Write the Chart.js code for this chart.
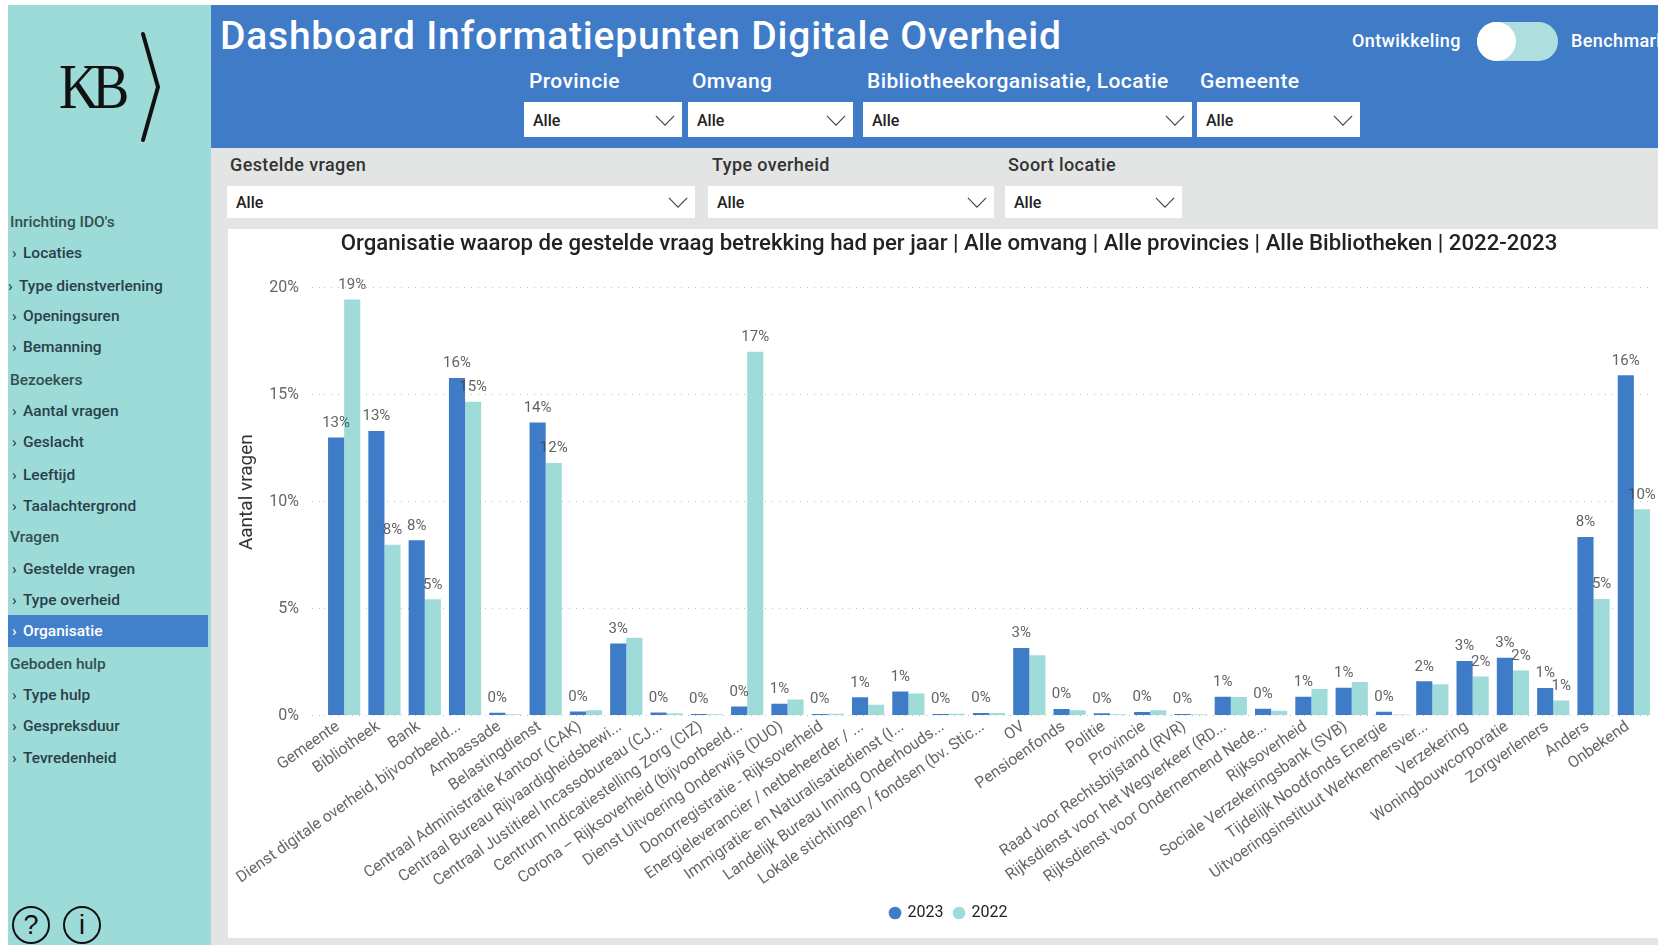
<!DOCTYPE html>
<html>
<head>
<meta charset="utf-8">
<title>Dashboard Informatiepunten Digitale Overheid</title>
<script src="https://cdn.jsdelivr.net/npm/chart.js@4"></script>
<style>
html, body { margin: 0; padding: 0; background: #fff; overflow: hidden; }
body { width: 1658px; height: 945px; position: relative; font-family: Roboto, sans-serif; }
.abs, .box, .lab, .nav, .head { position: absolute; white-space: nowrap; }
#side { left: 8px; top: 5px; width: 203px; height: 940px; background: #9ddbd9; }
#top { left: 211px; top: 5px; width: 1447px; height: 143px; background: #407bc8; }
#band { left: 211px; top: 148px; width: 1447px; height: 797px; background: #e3e5e4; }
#card { left: 228px; top: 229px; width: 1430px; height: 709px; background: #fff; }
#title { left: 220px; top: 13px; font-size: 39px; line-height: 46px; color: #fff; letter-spacing: .78px; font-weight: 500; }
.lab { font-size: 21px; line-height: 24px; color: #fff; letter-spacing: .4px; font-weight: 500; }
.lab.dark { font-size: 18px; color: #333; }
.box { background: #fff; font-size: 16px; color: #222; font-weight: 500; }
.box span { position: absolute; left: 9px; top: 50%; transform: translateY(-50%); }
.box svg { position: absolute; right: 7px; top: 50%; margin-top: -5px; }
.nav, .head { left: 23px; font-size: 15.5px; line-height: 20px; color: #2a3f4a; font-weight: 500; }
.head { left: 10px; color: #33504f; }
.nav::before { content: "›"; position: absolute; left: -11px; }
#active { left: 8px; top: 615px; width: 200px; height: 32px; background: #4280cc; }
.round { width: 34px; height: 34px; border: 2px solid #111; border-radius: 50%; text-align: center; font: 27px/34px "Liberation Sans", sans-serif; color: #111; }
</style>
</head>
<body>
<div class="abs" id="side"></div>
<div class="abs" id="top"></div>
<div class="abs" id="band"></div>
<div class="abs" id="card"><canvas id="myChart" width="1430" height="709" style="display:block;width:1430px;height:709px"></canvas></div>

<svg width="0" height="0" style="position:absolute"><symbol id="chev" viewBox="0 0 22 12"><polyline points="1,1 11,11 21,1" fill="none" stroke="#444" stroke-width="1.3"/></symbol></svg>

<div class="abs" id="title">Dashboard Informatiepunten Digitale Overheid</div>
<div class="lab" style="left:1352px;top:29px;font-size:18px">Ontwikkeling</div>
<div class="abs" style="left:1477px;top:22px;width:81px;height:39px;border-radius:20px;background:#aedede"></div>
<div class="abs" style="left:1477px;top:22px;width:39px;height:39px;border-radius:50%;background:#fff"></div>
<div class="lab" style="left:1571px;top:29px;font-size:18px">Benchmark</div>

<div class="lab" style="left:529px;top:69px">Provincie</div>
<div class="lab" style="left:692px;top:69px">Omvang</div>
<div class="lab" style="left:867px;top:69px">Bibliotheekorganisatie, Locatie</div>
<div class="lab" style="left:1200px;top:69px">Gemeente</div>
<div class="box" style="left:524px;top:102px;width:158px;height:35px"><span>Alle</span><svg width="20" height="11"><use href="#chev"/></svg></div>
<div class="box" style="left:688px;top:102px;width:165px;height:35px"><span>Alle</span><svg width="20" height="11"><use href="#chev"/></svg></div>
<div class="box" style="left:863px;top:102px;width:329px;height:35px"><span>Alle</span><svg width="20" height="11"><use href="#chev"/></svg></div>
<div class="box" style="left:1197px;top:102px;width:163px;height:35px"><span>Alle</span><svg width="20" height="11"><use href="#chev"/></svg></div>

<div class="lab dark" style="left:230px;top:153px">Gestelde vragen</div>
<div class="lab dark" style="left:712px;top:153px">Type overheid</div>
<div class="lab dark" style="left:1008px;top:153px">Soort locatie</div>
<div class="box" style="left:227px;top:186px;width:468px;height:32px"><span>Alle</span><svg width="20" height="11"><use href="#chev"/></svg></div>
<div class="box" style="left:708px;top:186px;width:286px;height:32px"><span>Alle</span><svg width="20" height="11"><use href="#chev"/></svg></div>
<div class="box" style="left:1005px;top:186px;width:177px;height:32px"><span>Alle</span><svg width="20" height="11"><use href="#chev"/></svg></div>

<div class="abs" style="left:59px;top:52px;font:64px/70px 'Liberation Serif',serif;color:#111;letter-spacing:-8px;transform:scaleX(.87);transform-origin:left">KB</div>
<svg class="abs" style="left:135px;top:28px" width="32" height="118"><polyline points="8,6 23,59 8,112" fill="none" stroke="#111" stroke-width="4" stroke-linecap="round"/></svg>

<div class="abs" id="active"></div>
<div class="head" style="top:212px">Inrichting IDO's</div>
<div class="nav" style="top:243px">Locaties</div>
<div class="nav" style="top:276px;left:19px">Type dienstverlening</div>
<div class="nav" style="top:306px">Openingsuren</div>
<div class="nav" style="top:337px">Bemanning</div>
<div class="head" style="top:370px">Bezoekers</div>
<div class="nav" style="top:401px">Aantal vragen</div>
<div class="nav" style="top:432px">Geslacht</div>
<div class="nav" style="top:465px">Leeftijd</div>
<div class="nav" style="top:496px">Taalachtergrond</div>
<div class="head" style="top:527px">Vragen</div>
<div class="nav" style="top:559px">Gestelde vragen</div>
<div class="nav" style="top:590px">Type overheid</div>
<div class="nav" style="top:621px;color:#fff">Organisatie</div>
<div class="head" style="top:654px">Geboden hulp</div>
<div class="nav" style="top:685px">Type hulp</div>
<div class="nav" style="top:716px">Gespreksduur</div>
<div class="nav" style="top:748px">Tevredenheid</div>
<div class="abs round" style="left:12px;top:906px">?</div>
<div class="abs round" style="left:63px;top:906px">i</div>

<script>
const categories = [
	"Gemeente",
	"Bibliotheek",
	"Bank",
	"Dienst digitale overheid, bijvoorbeeld...",
	"Ambassade",
	"Belastingdienst",
	"Centraal Administratie Kantoor (CAK)",
	"Centraal Bureau Rijvaardigheidsbewi...",
	"Centraal Justitieel Incassobureau (CJ...",
	"Centrum Indicatiestelling Zorg (CIZ)",
	"Corona – Rijksoverheid (bijvoorbeeld...",
	"Dienst Uitvoering Onderwijs (DUO)",
	"Donorregistratie - Rijksoverheid",
	"Energieleverancier / netbeheerder / ...",
	"Immigratie- en Naturalisatiedienst (I...",
	"Landelijk Bureau Inning Onderhouds...",
	"Lokale stichtingen / fondsen (bv. Stic...",
	"OV",
	"Pensioenfonds",
	"Politie",
	"Provincie",
	"Raad voor Rechtsbijstand (RVR)",
	"Rijksdienst voor het Wegverkeer (RD...",
	"Rijksdienst voor Ondernemend Nede...",
	"Rijksoverheid",
	"Sociale Verzekeringsbank (SVB)",
	"Tijdelijk Noodfonds Energie",
	"Uitvoeringsinstituut Werknemersver...",
	"Verzekering",
	"Woningbouwcorporatie",
	"Zorgverleners",
	"Anders",
	"Onbekend",
];

const values2023 = [12.99, 13.3, 8.19, 15.78, 0.13, 13.7, 0.19, 3.37, 0.14, 0.07, 0.42, 0.55, 0.07, 0.85, 1.12, 0.07, 0.12, 3.15, 0.3, 0.1, 0.16, 0.07, 0.88, 0.32, 0.88, 1.3, 0.18, 1.6, 2.55, 2.7, 1.29, 8.34, 15.9];
const values2022 = [19.45, 7.98, 5.43, 14.67, 0.06, 11.8, 0.24, 3.64, 0.11, 0.06, 17.0, 0.75, 0.08, 0.5, 1.03, 0.08, 0.12, 2.82, 0.24, 0.06, 0.25, 0.06, 0.87, 0.22, 1.24, 1.57, 0.05, 1.46, 1.82, 2.1, 0.7, 5.44, 9.64];

// 2022 only gets a label on these categories, the rest is hidden in the original
const labelled2022 = ["Gemeente", "Bibliotheek", "Bank", "Dienst digitale overheid, bijvoorbeeld...", "Belastingdienst", "Corona – Rijksoverheid (bijvoorbeeld...", "Verzekering", "Woningbouwcorporatie", "Zorgverleners", "Anders", "Onbekend"];

const chartTitle = "Organisatie waarop de gestelde vraag betrekking had per jaar | Alle omvang | Alle provincies | Alle Bibliotheken | 2022-2023";

const barLabels = {
	id: "barLabels",
	afterDatasetsDraw(chart) {
		const ctx = chart.ctx;
		ctx.save();
		ctx.font = "15px Roboto, sans-serif";
		ctx.fillStyle = "rgba(70, 70, 70, 0.85)";
		ctx.textAlign = "center";
		ctx.textBaseline = "bottom";
		chart.data.datasets.forEach((ds, i) => {
			chart.getDatasetMeta(i).data.forEach((bar, j) => {
				if (i === 1 && !labelled2022.includes(categories[j])) return;
				ctx.fillText(Math.round(ds.data[j]) + "%", bar.x, bar.y - 7);
			});
		});
		ctx.restore();
	},
};

Chart.defaults.font.family = "Roboto, sans-serif";
Chart.defaults.animation = false;

const ctx = document.getElementById("myChart").getContext("2d");
new Chart(ctx, {
	type: "bar",
	plugins: [barLabels],
	data: {
		labels: categories,
		datasets: [
			{ label: "2023", backgroundColor: "#3f7cc8", data: values2023 },
			{ label: "2022", backgroundColor: "#9fdcd9", data: values2022 },
		],
	},
	options: {
		responsive: false,
		categoryPercentage: 0.8,
		barPercentage: 1,
		layout: { padding: { top: 1, right: 4, bottom: 7, left: 16 } },
		plugins: {
			title: {
				display: true,
				text: chartTitle,
				color: "#222",
				font: { size: 22.2, weight: "500" },
				padding: { top: 1, bottom: 30 },
			},
			legend: {
				position: "bottom",
				labels: {
					usePointStyle: true,
					pointStyle: "circle",
					boxWidth: 9,
					boxHeight: 9,
					padding: 11,
					color: "#222",
					font: { size: 16 },
				},
			},
			tooltip: { enabled: false },
		},
		scales: {
			x: {
				grid: { display: false, drawTicks: false },
				border: { display: false },
				afterFit: (scale) => { scale.height = 178.5; },
				ticks: {
					color: "#666",
					font: { size: 15.8 },
					autoSkip: false,
					minRotation: 35,
					maxRotation: 35,
					padding: 2,
					labelOffset: -6,
				},
			},
			y: {
				min: 0,
				max: 20,
				afterFit: (scale) => { scale.width = 80; },
				// leading spaces: the original sits a bit above the middle of the axis
				title: { display: true, text: "    Aantal vragen", color: "#333", font: { size: 19 }, padding: { top: -8, bottom: 0 } },
				border: { display: false, dash: [1, 6] },
				grid: { color: "#bdbdbd", tickColor: "#bdbdbd", lineWidth: 1, tickLength: 12, tickBorderDash: [1, 6] },
				ticks: {
					stepSize: 5,
					color: "#666",
					font: { size: 16 },
					padding: 13,
					callback: (v) => v + "%",
				},
			},
		},
		elements: { bar: { borderWidth: 0 } },
	},
});
</script>
</body>
</html>
